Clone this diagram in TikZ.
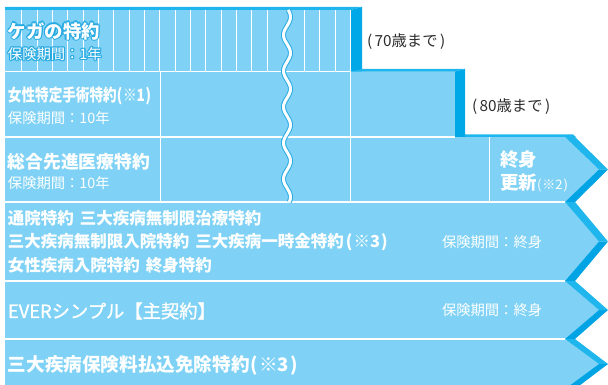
\documentclass[tikz,border=0pt]{standalone}
\usepackage{fontspec}
\setmainfont{Noto Sans CJK JP}
\newfontfamily\jpmed[FakeBold=1.2]{Noto Sans CJK JP}
\usetikzlibrary{calc}
\definecolor{body}{RGB}{127,210,245}
\definecolor{side}{RGB}{0,168,232}
\definecolor{toparm}{RGB}{30,182,236}
\definecolor{lowarm}{RGB}{0,163,228}
\definecolor{outc}{RGB}{41,171,226}
\definecolor{gtext}{RGB}{45,45,45}
\tikzset{
 lbl/.style={anchor=west, inner sep=0pt, outer sep=0pt, text=white},
 big/.style={lbl, font=\bfseries\fontsize{17}{18}\selectfont},
 sub/.style={lbl, font=\fontsize{14.3}{15}\selectfont},
 note/.style={anchor=west, inner sep=0pt, outer sep=0pt, text=gtext, font=\fontsize{15.3}{16}\selectfont},
 gridline/.style={draw=white, line width=0.9pt},
 sepline/.style={draw=white, line width=1.3pt},
}
\newcommand\outlined[4]{%
 \foreach \a in {0,45,...,315}{\node[#3,text=outc] (#1-\a) at ($(#2)+(\a:1.3)$) {#4};}%
 \node[#3] (#1) at (#2) {#4};}
\begin{document}
\begin{tikzpicture}[x=1pt,y=-1pt]
\path[use as bounding box] (0,0) rectangle (608,385);
\begin{scope}
\clip (0,0) rectangle (608,385);
% chevron rows
\foreach \t/\b/\m in {137/202/169.5, 202/281/241.5, 281/339/310, 339/389/364}{
 \fill[body] (5,\t) -- (565,\t) -- (599,\m) -- (565,\b) -- (5,\b) -- cycle;
 \fill[toparm] (565,\t) -- (575,\t) -- (608,\m) -- (599,\m) -- cycle;
 \fill[lowarm] (599,\m) -- (608,\m) -- (575,\b) -- (565,\b) -- cycle;
}
% row 3 top face
\fill[toparm] (455,137) -- (465,134.5) -- (573,134.5) -- (576,137) -- cycle;
% row 2
\fill[body] (5,71.5) rectangle (455,137);
\fill[side] (455,71.5) -- (465,69) -- (465,137) -- (455,137) -- cycle;
% row 1
\fill[body] (5,10) rectangle (351,71.5);
\fill[toparm] (5,7) -- (362,7) -- (351,10) -- (5,10) -- cycle;
\fill[side] (351,10) -- (362,7) -- (362,71.5) -- (351,71.5) -- cycle;
\fill[toparm] (351,71.5) -- (362,69) -- (465,69) -- (455,71.5) -- cycle;
% grid of row 1
\foreach \k in {1,...,17}{\draw[gridline] ({6.4+15.33*\k},10) -- ++(0,61.5);}
\foreach \x in {304.3,319.7,335}{\draw[gridline] (\x,10) -- ++(0,61.5);}
\draw[gridline] (350.3,10) -- (350.3,202);
\draw[gridline] (160,71.5) -- (160,202);
\draw[gridline] (489.5,137) -- (489.5,202);
% row separators
\draw[sepline] (5,71.5) -- (351,71.5);
\draw[sepline] (5,137) -- (455,137);
\foreach \y in {202,281,339}{\draw[sepline] (5,\y) -- (565,\y);}
% wavy break
\draw[outc, line width=5pt] plot[smooth, domain=10:202, samples=120] ({287+3.5*sin((\x-10)/36*360+20)},\x);
\draw[white, line width=3pt] plot[smooth, domain=10:202, samples=120] ({287+3.5*sin((\x-10)/36*360+20)},\x);
\end{scope}
% texts row 1
\outlined{t1}{8,31}{lbl, font=\bfseries\fontsize{18.4}{20}\selectfont}{ケガの特約}
\outlined{s1}{8,54}{sub}{保険期間：1年}
% row 2
\node[big] (t2) at (8,96) {\scalebox{0.8}[1]{女性特定手術特約(\kern1pt※1\kern1pt)}};
\node[sub] (s2) at (8,118.5) {保険期間：10年};
% row 3
\node[lbl, font=\bfseries\fontsize{17.75}{19}\selectfont] (t3) at (8,162) {総合先進医療特約};
\node[sub] (s3) at (8,183) {保険期間：10年};
\node[lbl, font=\bfseries\fontsize{18.5}{19}\selectfont] (r3a) at (500,160) {終身};
\node[lbl, font=\bfseries\fontsize{18.5}{19}\selectfont] (r3b) at (500,182.5) {更新{\mdseries\fontsize{13}{13}\selectfont (\kern1pt※2\kern1pt)}};
% row 4
\node[lbl, font=\bfseries\fontsize{16.5}{18}\selectfont] (t4a) at (8,218) {通院特約\hspace{6pt}三大疾病無制限治療特約};
\node[lbl, font=\bfseries\fontsize{16.5}{18}\selectfont] (t4b) at (8,242.5) {三大疾病無制限入院特約\hspace{6pt}三大疾病一時金特約\kern2pt(\kern1pt※3\kern1pt)};
\node[lbl, font=\bfseries\fontsize{16.5}{18}\selectfont] (t4c) at (8,265) {女性疾病入院特約\hspace{6pt}終身特約};
\node[sub] (s4) at (442,242) {保険期間：終身};
% row 5
\node[lbl, font=\jpmed\fontsize{18.3}{19}\selectfont] (t5) at (8,311) {EVERシンプル【主契約】};
\node[sub] (s5) at (442,310) {保険期間：終身};
% row 6
\node[lbl, font=\bfseries\fontsize{18.6}{19}\selectfont] (t6) at (8,365) {三大疾病保険料払込免除特約\kern1pt(\kern1pt※3\kern1pt)};
% notes
\node[note] (n70) at (367,42) {(\kern2.5pt70歳まで\kern2.5pt)};
\node[note] (n80) at (472,106.5) {(\kern2.5pt80歳まで\kern2.5pt)};
\end{tikzpicture}
\end{document}
